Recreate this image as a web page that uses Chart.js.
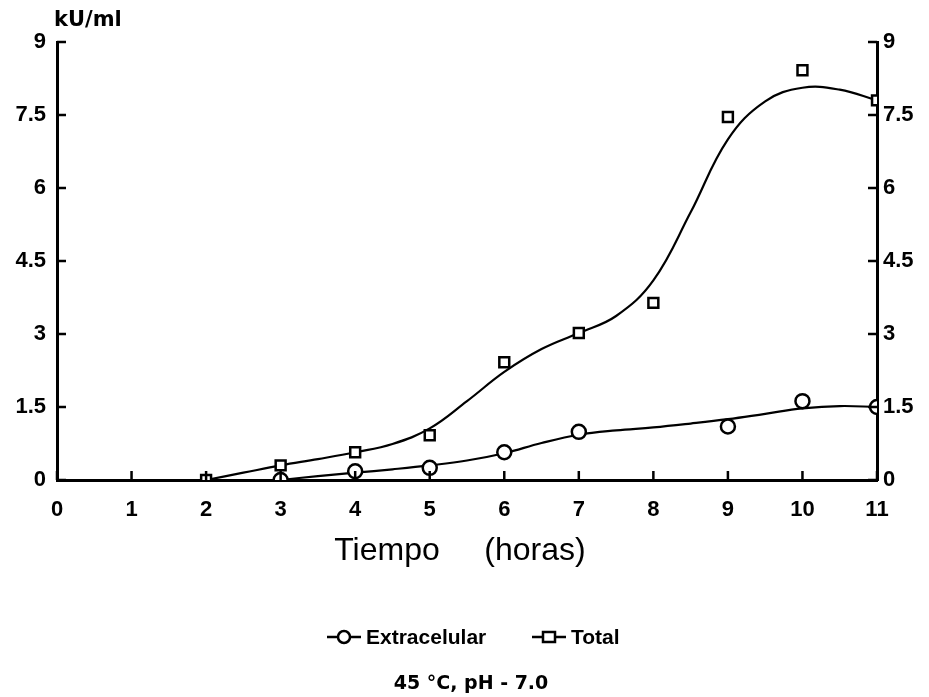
<!DOCTYPE html>
<html>
<head>
<meta charset="utf-8">
<script src="https://cdn.jsdelivr.net/npm/chart.js@4.4.1/dist/chart.umd.min.js"></script>
<style>
  html, body { margin: 0; padding: 0; background: #fff; }
  #wrap { width: 929px; height: 697px; position: relative; }
</style>
</head>
<body>
<div id="wrap"><canvas id="chart" width="929" height="697"></canvas></div>
<script>
// measured points
const horas = [2, 3, 4, 5, 6, 7, 8, 9, 10, 11];
const totalValues = [0, 0.3, 0.57, 0.92, 2.42, 3.02, 3.64, 7.46, 8.42, 7.8];
const extraHoras = [3, 4, 5, 6, 7, 9, 10, 11];
const extraValues = [0, 0.18, 0.25, 0.57, 0.99, 1.1, 1.62, 1.5];

// fitted curves
const curveHoras = [2, 2.5, 3, 3.5, 4, 4.5, 5, 5.5, 6, 6.5, 7, 7.5, 8, 8.5, 9, 9.5, 10, 10.5, 11];
const totalCurve = [0, 0.15, 0.3, 0.43, 0.57, 0.74, 1.06, 1.62, 2.22, 2.69, 3.02, 3.37, 4.1, 5.5, 7.0, 7.78, 8.06, 8.02, 7.8];
const extraCurveHoras = [3, 3.5, 4, 4.5, 5, 5.5, 6, 6.5, 7, 7.5, 8, 8.5, 9, 9.5, 10, 10.5, 11];
const extraCurve = [0, 0.08, 0.15, 0.22, 0.3, 0.4, 0.55, 0.76, 0.93, 1.02, 1.08, 1.16, 1.25, 1.36, 1.47, 1.52, 1.5];

const yTicks = [0, 1.5, 3, 4.5, 6, 7.5, 9];
const xTicks = [0, 1, 2, 3, 4, 5, 6, 7, 8, 9, 10, 11];

const toXY = (xs, ys) => xs.map((x, i) => ({ x: x, y: ys[i] }));

const FONT = '"Liberation Sans", Arial, sans-serif';
const WIDE = '"DejaVu Sans", sans-serif';

// inward tick marks, titles and the hand-drawn legend
const decorations = {
    id: 'decorations',
    afterDraw(chart) {
        const ctx = chart.ctx;
        const xs = chart.scales.x;
        const yl = chart.scales.y;
        const yr = chart.scales.y2;
        const area = chart.chartArea;
        ctx.save();
        ctx.strokeStyle = '#000';
        ctx.lineWidth = 2.5;
        ctx.beginPath();
        xTicks.forEach(v => {
            const px = xs.getPixelForValue(v);
            ctx.moveTo(px, area.bottom);
            ctx.lineTo(px, area.bottom - 9);
        });
        yTicks.forEach(v => {
            const py = yl.getPixelForValue(v);
            ctx.moveTo(area.left, py);
            ctx.lineTo(area.left + 9, py);
            const py2 = yr.getPixelForValue(v);
            ctx.moveTo(area.right, py2);
            ctx.lineTo(area.right - 9, py2);
        });
        ctx.stroke();

        ctx.fillStyle = '#000';
        ctx.font = 'bold 21px ' + WIDE;
        ctx.textAlign = 'left';
        ctx.textBaseline = 'middle';
        ctx.fillText('kU/ml', 54, 21);

        ctx.font = '32px ' + FONT;
        ctx.textAlign = 'center';
        ctx.fillText('Tiempo', 387, 551);
        ctx.fillText('(horas)', 535, 551);

        // legend
        const items = [
            { x: 327, label: chart.data.datasets[0].label, style: 'circle' },
            { x: 532, label: chart.data.datasets[1].label, style: 'rect' }
        ];
        const ly = 637;
        items.forEach(it => {
            ctx.lineWidth = 2.5;
            ctx.beginPath();
            ctx.moveTo(it.x, ly);
            ctx.lineTo(it.x + 34, ly);
            ctx.stroke();
            ctx.fillStyle = '#fff';
            ctx.beginPath();
            if (it.style === 'circle') {
                ctx.arc(it.x + 17, ly, 6, 0, Math.PI * 2);
            } else {
                ctx.rect(it.x + 11, ly - 5, 12, 10);
            }
            ctx.fill();
            ctx.stroke();
            ctx.fillStyle = '#000';
            ctx.font = 'bold 21px ' + FONT;
            ctx.textAlign = 'left';
            ctx.fillText(it.label, it.x + 39, ly + 1);
        });

        ctx.font = 'bold 19px ' + WIDE;
        ctx.textAlign = 'center';
        ctx.fillText('45 °C, pH - 7.0', 471, 684);
        ctx.restore();
    }
};

new Chart(document.getElementById('chart'), {
    type: 'scatter',
    data: {
        datasets: [
            {
                label: 'Extracelular',
                data: toXY(extraHoras, extraValues),
                showLine: false,
                pointStyle: 'circle',
                pointRadius: 7,
                pointBorderWidth: 2.5,
                pointBorderColor: '#000',
                pointBackgroundColor: '#fff',
                order: 0
            },
            {
                label: 'Total',
                data: toXY(horas, totalValues),
                showLine: false,
                pointStyle: 'rect',
                pointRadius: 7,
                pointBorderWidth: 2.5,
                pointBorderColor: '#000',
                pointBackgroundColor: '#fff',
                order: 0
            },
            {
                label: 'Extracelular (ajuste)',
                data: toXY(extraCurveHoras, extraCurve),
                showLine: true,
                pointRadius: 0,
                borderColor: '#000',
                borderWidth: 2.2,
                tension: 0.4,
                order: 1
            },
            {
                label: 'Total (ajuste)',
                data: toXY(curveHoras, totalCurve),
                showLine: true,
                pointRadius: 0,
                borderColor: '#000',
                borderWidth: 2.2,
                tension: 0.4,
                order: 1
            }
        ]
    },
    options: {
        responsive: false,
        animation: false,
        layout: { padding: { top: 42, left: 0, right: 0, bottom: 0 } },
        plugins: {
            legend: { display: false },
            tooltip: { enabled: false }
        },
        scales: {
            x: {
                type: 'linear',
                min: 0,
                max: 11,
                afterBuildTicks: s => { s.ticks = xTicks.map(v => ({ value: v })); },
                afterFit: s => { s.height = 697 - 480; },
                grid: { display: false, drawTicks: false },
                border: { display: true, color: '#000', width: 3 },
                ticks: {
                    color: '#000',
                    padding: 17,
                    font: { family: FONT, size: 22, weight: 'bold' }
                }
            },
            y: {
                position: 'left',
                min: 0,
                max: 9,
                afterBuildTicks: s => { s.ticks = yTicks.map(v => ({ value: v })); },
                afterFit: s => { s.width = 57; },
                grid: { display: false, drawTicks: false },
                border: { display: true, color: '#000', width: 3 },
                ticks: {
                    color: '#000',
                    padding: 11,
                    font: { family: FONT, size: 22, weight: 'bold' }
                }
            },
            y2: {
                position: 'right',
                min: 0,
                max: 9,
                afterBuildTicks: s => { s.ticks = yTicks.map(v => ({ value: v })); },
                afterFit: s => { s.width = 52; },
                grid: { display: false, drawTicks: false },
                border: { display: true, color: '#000', width: 3 },
                ticks: {
                    color: '#000',
                    padding: 6,
                    font: { family: FONT, size: 22, weight: 'bold' }
                }
            }
        }
    },
    plugins: [decorations]
});
</script>
</body>
</html>
